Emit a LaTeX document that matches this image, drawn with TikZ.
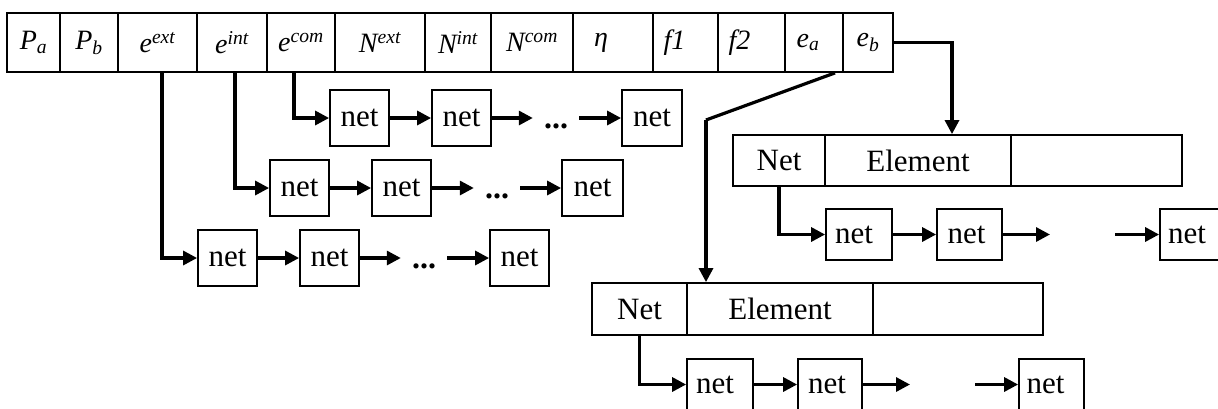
\documentclass[tikz,border=0pt]{standalone}
\usepackage{fontspec}
\setmainfont{Liberation Serif}
\usetikzlibrary{arrows.meta}
\begin{document}
\begin{tikzpicture}[x=1pt,y=-1pt,
  cell/.style={draw, line width=1.8pt, inner sep=0pt, minimum height=59pt,
    font=\fontsize{28}{32}\selectfont\itshape},
  box/.style={draw, line width=1.8pt, inner sep=0pt,
    font=\fontsize{31}{36}\selectfont},
  netbox/.style={box, minimum height=56pt},
  listbox/.style={box, minimum height=51pt},
  dots/.style={inner sep=0pt, minimum width=46pt, text height=20pt, text depth=0pt,
    font=\fontsize{32}{36}\selectfont\bfseries},
  conn/.style={line width=3.2pt, -{Triangle[length=14pt,width=14pt]}}
]
\useasboundingbox (0,0) rectangle (1218,408);
\clip (0,0) rectangle (1218,408);

% header record
\node[cell, minimum width=53pt] (pa)   at (33.5,42.5)  {P\textsubscript{a}};
\node[cell, minimum width=58pt] (pb)   at (89,42.5)    {P\textsubscript{b}};
\node[cell, minimum width=79pt] (eext) at (157.5,42.5) {e\textsuperscript{ext}};
\node[cell, minimum width=70pt] (eint) at (232,42.5)   {e\textsuperscript{int}};
\node[cell, minimum width=68pt] (ecom) at (301,42.5)   {e\textsuperscript{com}};
\node[cell, minimum width=90pt] (next) at (380,42.5)   {N\textsuperscript{ext}};
\node[cell, minimum width=66pt] (nint) at (458,42.5)   {N\textsuperscript{int}};
\node[cell, minimum width=82pt] (ncom) at (532,42.5)   {N\textsuperscript{com}};
\node[cell, minimum width=80pt] (eta)  at (613,42.5)   {η\hspace*{24pt}};
\node[cell, minimum width=65pt] (fa)   at (685.5,42.5) {f1\hspace*{22pt}};
\node[cell, minimum width=67pt] (fb)   at (751.5,42.5) {f2\hspace*{24pt}};
\node[cell, minimum width=58pt] (ea)   at (814,42.5)   {e\textsubscript{a}\hspace*{12pt}};
\node[cell, minimum width=50pt] (eb)   at (868,42.5)   {e\textsubscript{b}};

% e^com list
\node[netbox, minimum width=59pt] (r1a) at (359.5,118) {net};
\node[netbox, minimum width=59pt] (r1b) at (461.5,118) {net};
\node[dots] (r1d) at (556,118) {...};
\node[netbox, minimum width=60pt] (r1c) at (652,118) {net};

% e^int list
\node[netbox, minimum width=59pt] (r2a) at (299.5,188) {net};
\node[netbox, minimum width=59pt] (r2b) at (401.5,188) {net};
\node[dots] (r2d) at (497,188) {...};
\node[netbox, minimum width=61pt] (r2c) at (592.5,188) {net};

% e^ext list
\node[netbox, minimum width=59pt] (r3a) at (227.5,258) {net};
\node[netbox, minimum width=59pt] (r3b) at (329.5,258) {net};
\node[dots] (r3d) at (424,258) {...};
\node[netbox, minimum width=59pt] (r3c) at (519.5,258) {net};

% record reached from e_b
\node[listbox, minimum width=92pt]  (net1) at (779,160.5)    {Net};
\node[listbox, minimum width=186pt] (el1)  at (918,160.5)    {Element};
\node[listbox, minimum width=171pt] (em1)  at (1096.5,160.5) {};
\node[listbox, minimum width=66pt] (n1a) at (859,234.5)   {net\hspace*{10pt}};
\node[listbox, minimum width=65pt] (n1b) at (969.5,234.5) {net\hspace*{6pt}};
\node[listbox, minimum width=66pt] (n1c) at (1193,234.5)  {net\hspace*{12pt}};
\coordinate (g1a) at (1050,234.5);
\coordinate (g1b) at (1115,234.5);

% record reached from e_a
\node[listbox, minimum height=52pt, minimum width=95pt]  (net2) at (639.5,309) {Net};
\node[listbox, minimum height=52pt, minimum width=186pt] (el2)  at (780,309)   {Element};
\node[listbox, minimum height=52pt, minimum width=170pt] (em2)  at (958,309)   {};
\node[listbox, minimum width=66pt] (n2a) at (720,384.5)    {net\hspace*{10pt}};
\node[listbox, minimum width=64pt] (n2b) at (830,384.5)    {net\hspace*{6pt}};
\node[listbox, minimum width=65pt] (n2c) at (1051.5,384.5) {net\hspace*{12pt}};
\coordinate (g2a) at (910,384.5);
\coordinate (g2b) at (975,384.5);

% header pointers
\draw[conn] ([xshift=4.5pt]eext.south) |- (r3a.west);
\draw[conn] ([xshift=3pt]eint.south) |- (r2a.west);
\draw[conn] ([xshift=-7pt]ecom.south) |- (r1a.west);
\draw[conn] (eb.east) -| ([xshift=34pt]el1.north);
\coordinate (eabend) at (706,120);
\draw[line width=3.2pt] ([xshift=21pt]ea.south) -- (eabend);
\draw[conn] (eabend) -- ([xshift=-74pt]el2.north);

% list links
\draw[conn] (r1a) -- (r1b);
\draw[conn] (r1b) -- (r1d);
\draw[conn] (r1d) -- (r1c);
\draw[conn] (r2a) -- (r2b);
\draw[conn] (r2b) -- (r2d);
\draw[conn] (r2d) -- (r2c);
\draw[conn] (r3a) -- (r3b);
\draw[conn] (r3b) -- (r3d);
\draw[conn] (r3d) -- (r3c);

\draw[conn] (net1.south) |- (n1a.west);
\draw[conn] (n1a) -- (n1b);
\draw[conn] (n1b.east) -- (g1a);
\draw[conn] (g1b) -- (n1c.west);

\draw[conn] (net2.south) |- (n2a.west);
\draw[conn] (n2a) -- (n2b);
\draw[conn] (n2b.east) -- (g2a);
\draw[conn] (g2b) -- (n2c.west);
\end{tikzpicture}
\end{document}
